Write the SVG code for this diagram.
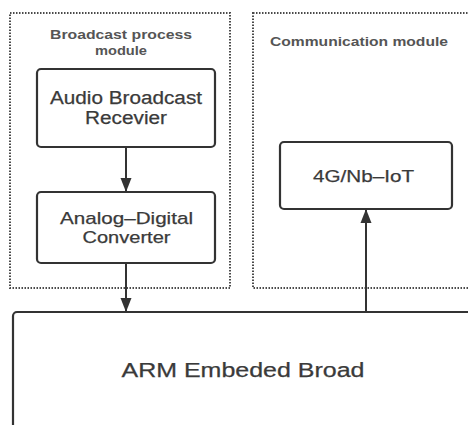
<svg xmlns="http://www.w3.org/2000/svg" width="468" height="425" viewBox="0 0 468 425">
  <style>
    .module { fill: none; stroke: #4a4a4a; stroke-width: 2; stroke-dasharray: 1.5 1.5; }
    .box { fill: #fff; stroke: #333; stroke-width: 2.2; }
    .label { font-family: "Liberation Sans", Arial, sans-serif; fill: #3a3a3a; text-anchor: middle; stroke: #3a3a3a; stroke-width: 0.25; }
    .title { font-family: "Liberation Sans", Arial, sans-serif; fill: #555; font-weight: bold; font-size: 12.5px; text-anchor: middle; }
    .link { fill: none; stroke: #333; stroke-width: 2; }
  </style>
  <defs>
    <marker id="arrow" markerUnits="userSpaceOnUse" markerWidth="14" markerHeight="16" viewBox="0 0 14 16" refX="14" refY="8" orient="auto">
      <path d="M0,2.5 L14,8 L0,13.5 Z" fill="#333"/>
    </marker>
  </defs>
  <rect width="468" height="425" fill="#fff"/>

  <!-- module containers -->
  <g id="broadcast-module">
    <rect class="module" x="10" y="13" width="220" height="275"/>
    <text class="title" x="121" y="39" textLength="142" lengthAdjust="spacingAndGlyphs">Broadcast process</text>
    <text class="title" x="121" y="55" textLength="52" lengthAdjust="spacingAndGlyphs">module</text>
  </g>
  <g id="communication-module">
    <rect class="module" x="253" y="13" width="225" height="275"/>
    <text class="title" x="359" y="46" textLength="178" lengthAdjust="spacingAndGlyphs">Communication module</text>
  </g>

  <!-- connectors -->
  <g id="connectors">
    <line class="link" x1="126" y1="147" x2="126" y2="192" marker-end="url(#arrow)"/>
    <line class="link" x1="126" y1="263" x2="126" y2="312" marker-end="url(#arrow)"/>
    <line class="link" x1="366" y1="312" x2="366" y2="209" marker-end="url(#arrow)"/>
  </g>

  <!-- nodes -->
  <g id="audio-receiver">
    <rect class="box" x="37" y="69" width="178" height="78" rx="4"/>
    <text class="label" x="126" y="104" font-size="18" textLength="152" lengthAdjust="spacingAndGlyphs">Audio Broadcast</text>
    <text class="label" x="126" y="124" font-size="18" textLength="82" lengthAdjust="spacingAndGlyphs">Recevier</text>
  </g>
  <g id="adc">
    <rect class="box" x="37" y="192" width="178" height="71" rx="4"/>
    <text class="label" x="126.5" y="224" font-size="17" textLength="133" lengthAdjust="spacingAndGlyphs">Analog–Digital</text>
    <text class="label" x="126.5" y="243" font-size="17" textLength="88" lengthAdjust="spacingAndGlyphs">Converter</text>
  </g>
  <g id="nbiot">
    <rect class="box" x="280" y="142" width="172" height="67" rx="4"/>
    <text class="label" x="363.5" y="182" font-size="17" textLength="101" lengthAdjust="spacingAndGlyphs">4G/Nb–IoT</text>
  </g>
  <g id="arm-board">
    <rect class="box" x="13" y="312" width="470" height="130" rx="4"/>
    <text class="label" x="243" y="377" font-size="19.5" textLength="243" lengthAdjust="spacingAndGlyphs">ARM Embeded Broad</text>
  </g>
</svg>
